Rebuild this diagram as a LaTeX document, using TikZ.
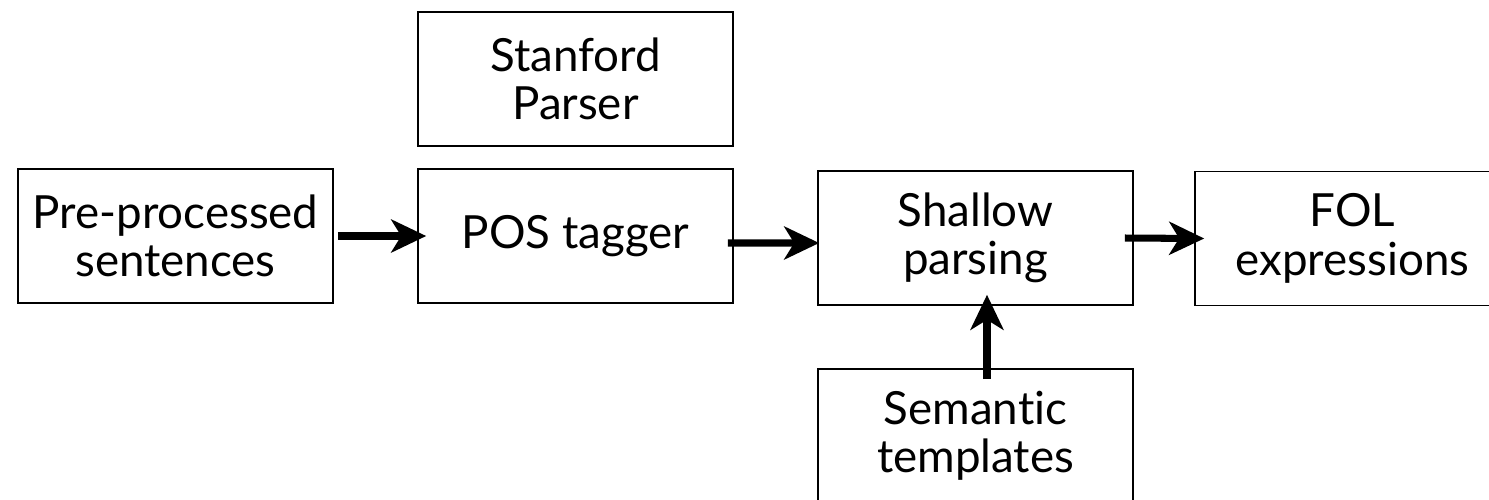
\documentclass[tikz,border=0pt]{standalone}
\usepackage{fontspec}
\setmainfont{Lato}[Ligatures=NoCommon]
\usetikzlibrary{arrows.meta, positioning}

\begin{document}
\begin{tikzpicture}[
    >={Stealth[length=7mm, width=6.6mm, inset=2mm]},
    box/.style={draw, line width=0.9pt, minimum width=6.3cm, minimum height=2.68cm,
      align=center, inner sep=0pt, font=\fontsize{26pt}{27.5pt}\selectfont},
    flow/.style={->, line width=4pt},
  ]

  % Frame
  \useasboundingbox (0,0) rectangle (29.78,-9.98);

  % === Boxes ===
  \node[box] (pre) at (3.51,-4.72) {Pre-processed\\sentences};
  \node[box] (stanford) at (11.51,-1.58) {Stanford\\Parser};
  \node[box] (pos) at (11.51,-4.72) {POS tagger};
  \node[box] (shallow) at (19.51,-4.76) {Shallow\\parsing};
  \node[box] (fol) at (27.05,-4.77) {FOL\\expressions};
  \node[box] (sem) at (19.51,-8.72) {Semantic\\templates};

  % === Connectors ===
  \draw[flow] ([xshift=0.08cm]pre.east) -- ([xshift=0.18cm]pos.west);
  \draw[flow] ([xshift=-0.12cm, yshift=-0.14cm]pos.east)
    -- ([xshift=0.04cm, yshift=-0.10cm]shallow.west);
  \draw[flow] ([xshift=-0.18cm]shallow.east) -- ([xshift=0.2cm]fol.west);
  \draw[flow] ([xshift=0.23cm, yshift=-0.22cm]sem.north)
    -- ([xshift=0.23cm, yshift=0.22cm]shallow.south);

\end{tikzpicture}
\end{document}
